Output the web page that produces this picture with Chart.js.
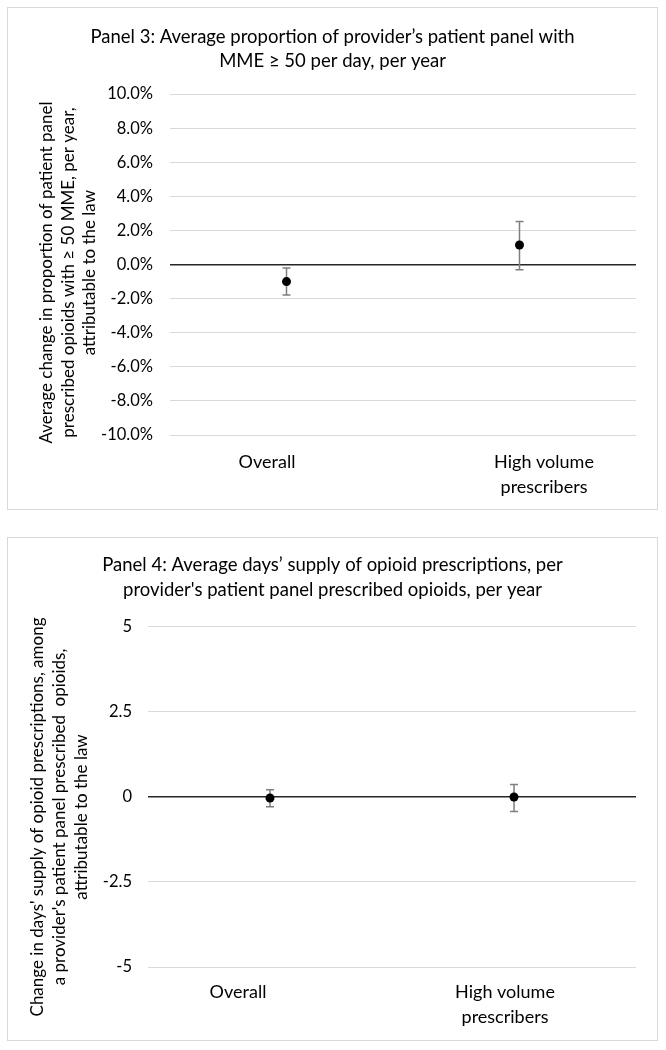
<!DOCTYPE html>
<html>
<head>
<meta charset="utf-8">
<script src="https://cdn.jsdelivr.net/npm/chart.js@4.4.1/dist/chart.umd.min.js"></script>
<style>
    body { margin: 0; background: #fff; }
    .panel { position: absolute; left: 7px; width: 649px; border: 1px solid #d9d9d9; background: #fff; }
    #box3 { top: 7px; height: 501px; }
    #box4 { top: 537px; height: 502px; }
    canvas { display: block; }
</style>
</head>
<body>
<div class="panel" id="box3"><canvas id="panel3" width="649" height="501"></canvas></div>
<div class="panel" id="box4"><canvas id="panel4" width="649" height="502"></canvas></div>
<script>
// Categories
const categories = ['Overall', ['High volume', 'prescribers']];

// Panel 3 (percent points)
const p3Title = ['Panel 3: Average proportion of provider\u2019s patient panel with', 'MME \u2265 50 per day, per year'];
const p3AxisTitle = ['Average change in proportion of patient panel', 'prescribed opioids with \u2265 50 MME, per year,', 'attributable to the law'];
const p3Ticks = [-10, -8, -6, -4, -2, 0, 2, 4, 6, 8, 10];
const p3Estimate = [-1.0, 1.15];
const p3Lower = [-1.78, -0.30];
const p3Upper = [-0.20, 2.52];

// Panel 4 (days)
const p4Title = ['Panel 4: Average days\u2019 supply of opioid prescriptions, per', "provider's patient panel prescribed opioids, per year"];
const p4AxisTitle = ["Change in days' supply of opioid prescriptions, among", "a provider's patient panel prescribed  opioids,", 'attributable to the law'];
const p4Ticks = [-5, -2.5, 0, 2.5, 5];
const p4Estimate = [-0.03, 0];
const p4Lower = [-0.29, -0.43];
const p4Upper = [0.21, 0.37];

const FONT = 'Lato';

// error bars, category labels and rotated axis title
const panelText = {
    id: 'panelText',
    beforeDatasetsDraw(chart) {
        const ctx = chart.ctx, xs = chart.scales.x, ys = chart.scales.y;
        const ds = chart.data.datasets[0];
        ctx.save();
        ctx.strokeStyle = '#7f7f7f';
        ctx.lineWidth = 1.5;
        ds.lower.forEach((lo, i) => {
            const px = xs.getPixelForValue(i);
            const y1 = ys.getPixelForValue(lo), y2 = ys.getPixelForValue(ds.upper[i]);
            ctx.beginPath();
            ctx.moveTo(px, y1); ctx.lineTo(px, y2);
            ctx.moveTo(px - 4, y1); ctx.lineTo(px + 4, y1);
            ctx.moveTo(px - 4, y2); ctx.lineTo(px + 4, y2);
            ctx.stroke();
        });
        ctx.restore();
    },
    afterDraw(chart, args, opts) {
        const ctx = chart.ctx, xs = chart.scales.x, area = chart.chartArea;
        ctx.save();
        ctx.fillStyle = '#000';
        ctx.textAlign = 'center';
        ctx.textBaseline = 'middle';
        ctx.font = opts.labelSize + 'px ' + FONT;
        chart.data.labels.forEach((lab, i) => {
            const lines = Array.isArray(lab) ? lab : [lab];
            const cx = xs.getPixelForValue(i) + opts.labelShift[i];
            lines.forEach((t, k) => ctx.fillText(t, cx, area.bottom + opts.labelTop + k * opts.labelLine));
        });
        ctx.font = opts.titleSize + 'px ' + FONT;
        const cy = (area.top + area.bottom) / 2 + opts.titleShift;
        opts.axisTitle.forEach((t, k) => {
            ctx.save();
            ctx.translate(opts.titleX + k * opts.titleLine, cy);
            ctx.rotate(-Math.PI / 2);
            ctx.fillText(t, 0, 0);
            ctx.restore();
        });
        ctx.restore();
    }
};

function makePanel(id, title, axisTitle, ticks, est, lo, hi, fmt, lay) {
    new Chart(document.getElementById(id), {
        type: 'line',
        data: {
            labels: categories,
            datasets: [{
                data: est,
                lower: lo,
                upper: hi,
                showLine: false,
                pointRadius: 4.5,
                pointBackgroundColor: '#000',
                pointBorderColor: '#000',
                pointBorderWidth: 0
            }]
        },
        plugins: [panelText],
        options: {
            responsive: false,
            animation: false,
            layout: { padding: 0 },
            plugins: {
                legend: { display: false },
                tooltip: { enabled: false },
                title: {
                    display: true,
                    text: title,
                    color: '#000',
                    font: { family: FONT, size: 18.5, weight: 'normal', lineHeight: lay.titleLH },
                    padding: { top: lay.titleTop, bottom: lay.titleBottom }
                },
                panelText: {
                    labelSize: 18,
                    titleSize: 17,
                    axisTitle: axisTitle,
                    labelShift: lay.labelShift,
                    labelTop: lay.labelTop,
                    labelLine: 24.5,
                    titleX: lay.titleX,
                    titleLine: lay.titleLine,
                    titleShift: lay.titleShift
                }
            },
            scales: {
                x: {
                    type: 'category',
                    offset: true,
                    grid: { display: false },
                    border: { display: false },
                    ticks: { display: false },
                    afterFit: s => { s.height = lay.bottomH; }
                },
                y: {
                    min: ticks[0],
                    max: ticks[ticks.length - 1],
                    afterBuildTicks: s => { s.ticks = ticks.map(v => ({ value: v })); },
                    border: { display: false },
                    grid: {
                        drawTicks: false,
                        color: c => c.tick.value === 0 ? '#262626' : '#d9d9d9',
                        lineWidth: c => c.tick.value === 0 ? 1.5 : 1
                    },
                    ticks: {
                        padding: lay.tickPad,
                        color: '#000',
                        font: { family: FONT, size: 16.5 },
                        callback: fmt
                    },
                    afterFit: s => { s.width = lay.leftW; }
                },
                // empty right margin so the title stays centred on the whole panel
                yRight: {
                    position: 'right',
                    grid: { display: false },
                    border: { display: false },
                    ticks: { display: false },
                    afterFit: s => { s.width = 21; }
                }
            }
        }
    });
}

makePanel('panel3', p3Title, p3AxisTitle, p3Ticks, p3Estimate, p3Lower, p3Upper,
    v => v.toFixed(1) + '%',
    { titleLH: 1.3, titleTop: 17, titleBottom: 21, leftW: 162, bottomH: 74, tickPad: 17,
      labelShift: [-19.5, 24.5], labelTop: 27.5, titleX: 39, titleLine: 21.5, titleShift: 8 });

makePanel('panel4', p4Title, p4AxisTitle, p4Ticks, p4Estimate, p4Lower, p4Upper,
    v => String(v),
    { titleLH: 1.35, titleTop: 15, titleBottom: 24, leftW: 140, bottomH: 73, tickPad: 16,
      labelShift: [-32, -9], labelTop: 25.5, titleX: 30, titleLine: 22, titleShift: 20 });
</script>
</body>
</html>
